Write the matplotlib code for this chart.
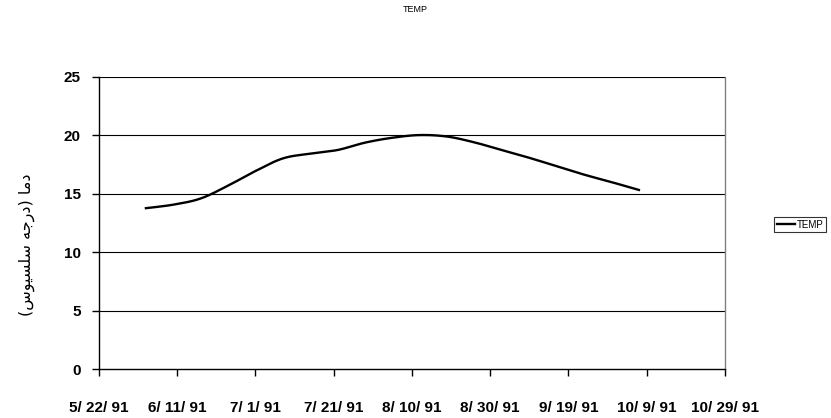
import numpy as np
import matplotlib
matplotlib.use("Agg")
import matplotlib.pyplot as plt
import datetime as dt

# ---- data ----
dates = ["1991-06-03", "1991-06-10", "1991-06-17", "1991-06-24", "1991-07-01",
         "1991-07-08", "1991-07-15", "1991-07-22", "1991-07-29", "1991-08-05",
         "1991-08-12", "1991-08-19", "1991-08-26", "1991-09-02", "1991-09-09",
         "1991-09-16", "1991-09-23", "1991-09-30", "1991-10-07"]
temp = [13.77, 14.07, 14.6, 15.7, 16.95, 18.03, 18.44, 18.75, 19.38, 19.8,
        20.03, 19.9, 19.4, 18.74, 18.08, 17.36, 16.64, 16.0, 15.33]
xtick_dates = ["1991-05-22", "1991-06-11", "1991-07-01", "1991-07-21", "1991-08-10",
               "1991-08-30", "1991-09-19", "1991-10-09", "1991-10-29"]
xtick_labels = ["5/ 22/ 91", "6/ 11/ 91", "7/ 1/ 91", "7/ 21/ 91", "8/ 10/ 91",
                "8/ 30/ 91", "9/ 19/ 91", "10/ 9/ 91", "10/ 29/ 91"]
yticks = [0, 5, 10, 15, 20, 25]
title = "TEMP"
series_name = "TEMP"
# "دما (درجه سلسيوس)" in visual order with Arabic presentation forms
ylabel = "(" + "\uFEB1\uFEEE\uFEF4\uFEB4\uFEE0\uFEB3" + " " + "\uFEEA\uFE9F\uFEAD\uFEA9" + ")" + " " + "\uFE8E\uFEE3\uFEA9"

base = dt.date(1991, 5, 22)
def day(s):
    return (dt.date.fromisoformat(s) - base).days

x = np.array([day(d) for d in dates], dtype=float)
y = np.array(temp, dtype=float)

# Catmull-Rom rendering of the smoothed line (like Excel's smoothed line)
def catmull(xp, yp, n=20):
    P = np.column_stack([xp, yp])
    P = np.vstack([P[0], P, P[-1]])
    out = []
    for i in range(1, len(P) - 2):
        p0, p1, p2, p3 = P[i-1], P[i], P[i+1], P[i+2]
        t = np.linspace(0, 1, n, endpoint=False)[:, None]
        pts = 0.5 * ((2*p1) + (-p0 + p2)*t + (2*p0 - 5*p1 + 4*p2 - p3)*t**2 + (-p0 + 3*p1 - 3*p2 + p3)*t**3)
        out.append(pts)
    out.append(P[-2][None, :])
    R = np.vstack(out)
    return R[:, 0], R[:, 1]

sx, sy = catmull(x, y)

fig = plt.figure(figsize=(8.31, 4.18), dpi=100)
ax = fig.add_axes([0.1191, 0.1172, 0.7533, 0.6986])

for v in yticks[1:]:
    ax.axhline(v, color="black", lw=0.8, zorder=1)

ax.plot(sx, sy, color="black", lw=1.7, zorder=3, label=series_name)

xt = [day(d) for d in xtick_dates]
ax.set_xlim(xt[0], xt[-1])
ax.set_ylim(0, 25)
ax.set_xticks(xt)
ax.set_xticklabels(xtick_labels, fontfamily="Liberation Sans", fontweight="bold", fontsize=11)
ax.set_yticks(yticks)
ax.set_yticklabels([str(v) for v in yticks], fontfamily="Liberation Sans", fontweight="bold", fontsize=11)
ax.tick_params(axis="x", direction="out", length=5, width=1, pad=18, colors="black")
ax.tick_params(axis="y", direction="out", length=5, width=1, pad=8, colors="black")

for s in ["left", "bottom"]:
    ax.spines[s].set_color("black")
    ax.spines[s].set_linewidth(1)
ax.spines["top"].set_visible(False)
ax.spines["right"].set_color("#808080")
ax.spines["right"].set_linewidth(1)

fig.text(0.0325, 0.414, ylabel, rotation=90, ha="center", va="center",
         fontsize=11.5, family=["DejaVu Sans"])

fig.text(0.5, 0.977, title, ha="center", va="center", fontsize=6.5,
         fontfamily="Liberation Sans")

leg = fig.legend(handles=ax.get_lines()[-1:], labels=[series_name],
                 loc="center", bbox_to_anchor=(0.963, 0.462),
                 prop={"family": "Liberation Sans", "size": 7},
                 frameon=True, fancybox=False, edgecolor="black",
                 handlelength=1.9, handletextpad=0.2, borderpad=0.25,
                 borderaxespad=0)
leg.get_frame().set_linewidth(0.8)

fig.savefig("out.png", dpi=100)
